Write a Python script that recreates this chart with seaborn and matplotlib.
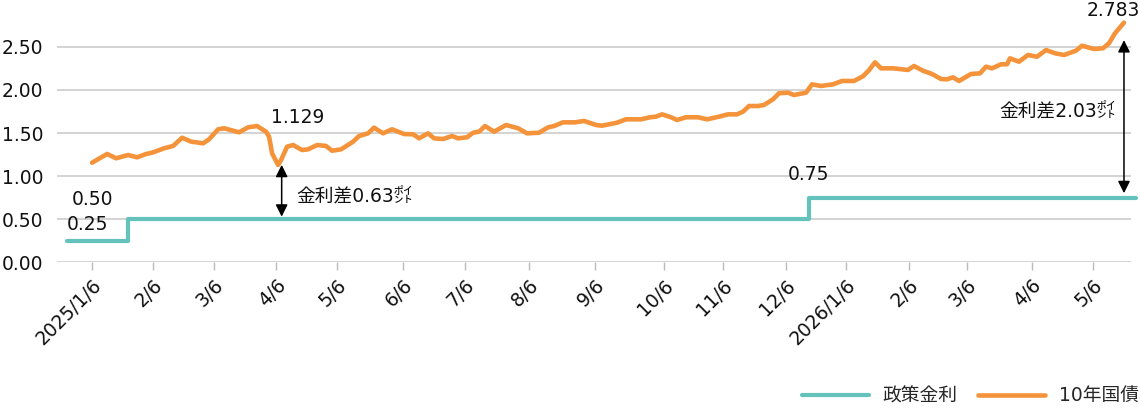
import numpy as np
import pandas as pd
import matplotlib
matplotlib.use("Agg")
import matplotlib.pyplot as plt
import seaborn as sns

# x = trading-day index from 2025/1/6
jgb_day = [0, 5, 8, 12, 15, 18, 20, 24, 27, 30, 33, 37, 39, 42, 44, 49, 52, 55, 58, 59,
           60, 62, 63, 65, 67, 70, 72, 75, 78, 80, 83, 87, 89, 92, 94, 97, 100, 104, 107,
           109, 112, 114, 117, 120, 122, 125, 127, 129, 131, 134, 138, 142, 145, 149, 152,
           154, 157, 161, 164, 168, 170, 175, 178, 183, 186, 188, 190, 193, 195, 198, 202,
           205, 209, 212, 215, 217, 219, 222, 224, 227, 229, 232, 234, 238, 240, 243, 247,
           250, 254, 257, 259, 261, 263, 267, 272, 274, 277, 280, 283, 285, 287, 289, 293,
           296, 298, 300, 303, 305, 306, 309, 312, 315, 318, 321, 324, 328, 330, 334, 337,
           339, 341, 344]
jgb_10y = [1.155, 1.256, 1.206, 1.244, 1.217, 1.256, 1.271, 1.322, 1.349, 1.445, 1.40, 1.38,
           1.427, 1.543, 1.555, 1.508, 1.566, 1.581, 1.515, 1.457, 1.264, 1.129, 1.186, 1.341,
           1.36, 1.302, 1.31, 1.36, 1.349, 1.294, 1.31, 1.399, 1.465, 1.496, 1.562, 1.496,
           1.543, 1.488, 1.485, 1.438, 1.496, 1.438, 1.43, 1.465, 1.438, 1.45, 1.503, 1.515,
           1.581, 1.515, 1.593, 1.555, 1.496, 1.503, 1.566, 1.581, 1.624, 1.624, 1.64, 1.593,
           1.585, 1.62, 1.659, 1.659, 1.683, 1.69, 1.717, 1.683, 1.651, 1.683, 1.683, 1.659,
           1.69, 1.717, 1.717, 1.748, 1.814, 1.814, 1.826, 1.892, 1.962, 1.969, 1.942, 1.969,
           2.066, 2.047, 2.066, 2.105, 2.105, 2.16, 2.23, 2.322, 2.252, 2.252, 2.233, 2.279,
           2.224, 2.186, 2.128, 2.124, 2.147, 2.105, 2.186, 2.194, 2.271, 2.252, 2.299, 2.299,
           2.368, 2.329, 2.407, 2.387, 2.465, 2.427, 2.407, 2.457, 2.515, 2.477, 2.485, 2.543,
           2.659, 2.783]

policy_day = [-8.4, 12, 239, 348]
policy_rate = [0.25, 0.50, 0.75, 0.75]

tick_day = [0, 20.3, 40.7, 61.3, 81.7, 103.7, 124.3, 145.7, 167.7, 190.7, 210.3, 231.3,
            251.3, 272.3, 291.7, 313.3, 333.7]
tick_labels = ["2025/1/6", "2/6", "3/6", "4/6", "5/6", "6/6", "7/6", "8/6", "9/6", "10/6",
               "11/6", "12/6", "2026/1/6", "2/6", "3/6", "4/6", "5/6"]

teal = "#63C3BC"
orange = "#F4933A"
ink = "#111111"
fs = 13.5

sns.set_theme(style="white")
plt.rcParams["font.family"] = ["DejaVu Sans", "Noto Sans CJK JP"]
plt.rcParams["font.size"] = fs

jgb = pd.DataFrame({"day": jgb_day, "rate": jgb_10y})
policy = pd.DataFrame({"day": policy_day, "rate": policy_rate})

fig = plt.figure(figsize=(11.4, 4.09), dpi=100)
ax = fig.add_axes([0.05, 0.3594, 0.942, 0.6098])

sns.lineplot(data=policy, x="day", y="rate", ax=ax, color=teal, lw=3.0,
             drawstyle="steps-post", label="政策金利", clip_on=False, zorder=3)
sns.lineplot(data=jgb, x="day", y="rate", ax=ax, color=orange, lw=3.3,
             label="10年国債", solid_joinstyle="round", solid_capstyle="round", zorder=4)

ax.set_xlim(-11.7, 346.3)
ax.set_ylim(0, 2.9)
yt = [0, 0.5, 1.0, 1.5, 2.0, 2.5]
ax.set_yticks(yt)
ax.set_yticklabels([f"{v:.2f}" for v in yt], fontsize=fs, color=ink)
ax.set_xticks(tick_day)
ax.set_xticklabels(tick_labels, rotation=45, ha="right", rotation_mode="anchor",
                   fontsize=fs, color=ink)
ax.tick_params(axis="x", direction="out", length=6, width=1, color="#bbbbbb", pad=4, bottom=True)
ax.tick_params(axis="y", length=0, pad=10)
ax.grid(axis="y", color="#cccccc", lw=1.2)
ax.grid(axis="x", visible=False)
for s in ax.spines.values():
    s.set_visible(False)
ax.set_xlabel("")
ax.set_ylabel("")

# value labels
ax.text(-8.5, 0.44, "0.25", ha="left", va="center", fontsize=fs, color=ink)
ax.text(-6.7, 0.73, "0.50", ha="left", va="center", fontsize=fs, color=ink)
ax.text(232, 1.02, "0.75", ha="left", va="center", fontsize=fs, color=ink)
ax.text(59.7, 1.686, "1.129", ha="left", va="center", fontsize=fs, color=ink)
ax.text(349.3, 2.93, "2.783", ha="right", va="center", fontsize=fs, color=ink)

# spread arrows
arrow = dict(arrowstyle="<|-|>", color="black", lw=1.1, shrinkA=0, shrinkB=0,
             mutation_scale=18)
ax.annotate("", xy=(63.2, 1.13), xytext=(63.2, 0.527), arrowprops=arrow, zorder=5)
ax.annotate("", xy=(344, 2.58), xytext=(344, 0.80), arrowprops=arrow, zorder=5)
ax.text(68, 0.756, "金利差0.63㌽", ha="left", va="center", fontsize=fs, color=ink)
ax.text(341.2, 1.748, "金利差2.03㌽", ha="right", va="center", fontsize=fs, color=ink)

ax.legend_.remove()
handles, labels = ax.get_legend_handles_labels()
fig.legend(handles, labels, loc="lower right", bbox_to_anchor=(1.002, 0.0), ncol=2,
           frameon=False, handlelength=3.6, handletextpad=0.7, columnspacing=1.1,
           borderpad=0.2, borderaxespad=0, fontsize=fs)

fig.savefig("out.png", dpi=100)
